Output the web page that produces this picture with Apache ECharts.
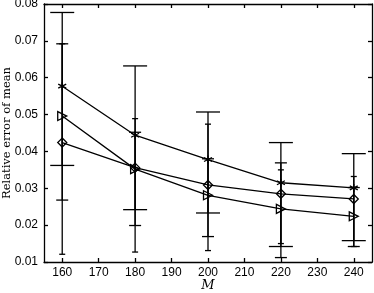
<!DOCTYPE html>
<html><head><meta charset="utf-8">
<script src="https://cdn.jsdelivr.net/npm/echarts@6/dist/echarts.min.js"></script>
<style>html,body{margin:0;padding:0;background:#fff}#c{width:374px;height:293px}</style>
</head><body><div id="c"></div>
<script>
const mValues = [160, 180, 200, 220, 240];
const xTicks = [160, 170, 180, 190, 200, 210, 220, 230, 240];
const yTicks = [0.01, 0.02, 0.03, 0.04, 0.05, 0.06, 0.07, 0.08];

const starMean = [0.0577, 0.0444, 0.0378, 0.0315, 0.0301];
const triMean  = [0.0496, 0.0352, 0.0281, 0.0244, 0.0224];
const diaMean  = [0.0424, 0.0356, 0.0309, 0.0285, 0.0271];

// error bar bounds (wide caps / medium caps / small caps)
const starUpper = [0.0777, 0.0632, 0.0507, 0.0424, 0.0394];
const starLower = [0.0362, 0.0242, 0.0233, 0.0142, 0.0158];
const diaUpper  = [0.0692, 0.0452, 0.0380, 0.0369, 0.0302];
const diaLower  = [0.0268, 0.0199, 0.0169, 0.0112, 0.0142];
const triUpper  = [0.0692, 0.0489, 0.0474, 0.0350, 0.0332];
const triLower  = [0.0121, 0.0127, 0.0131, 0.0150, 0.0142];

const chart = echarts.init(document.getElementById('c'));
const fontSans = 'Liberation Sans, Arial, sans-serif';
const fontSerif = 'DejaVu Serif, Liberation Serif, serif';

function errSeries(name, lower, upper, half) {
  return {
    type: 'custom', name: name, z: 2,
    data: mValues.map((m, i) => [m, lower[i], upper[i]]),
    renderItem: function (params, api) {
      const x = api.value(0);
      const lo = api.coord([x, api.value(1)]);
      const hi = api.coord([x, api.value(2)]);
      const st = { stroke: '#000', lineWidth: 1.3 };
      return { type: 'group', children: [
        { type: 'line', shape: { x1: lo[0], y1: lo[1], x2: hi[0], y2: hi[1] }, style: st },
        { type: 'line', shape: { x1: lo[0] - half, y1: lo[1], x2: lo[0] + half, y2: lo[1] }, style: st },
        { type: 'line', shape: { x1: hi[0] - half, y1: hi[1], x2: hi[0] + half, y2: hi[1] }, style: st }
      ]};
    }
  };
}

function lineSeries(name, vals, symbol, size) {
  return {
    type: 'line', name: name, z: 3,
    data: mValues.map((m, i) => [m, vals[i]]),
    symbol: symbol, symbolSize: size, showAllSymbol: true,
    lineStyle: { color: '#000', width: 1.3 },
    itemStyle: { color: 'transparent', borderColor: '#000', borderWidth: 1.3 },
    emphasis: { disabled: true }, animation: false
  };
}

const axisCommon = {
  axisLine: { show: true, lineStyle: { color: '#000', width: 1.3 } },
  axisTick: { show: true, inside: true, length: 4, lineStyle: { color: '#000', width: 1.3 } },
  splitLine: { show: false }
};

chart.setOption({
  animation: false,
  grid: { left: 44, right: 2, top: 4, bottom: 31, outerBoundsMode: 'none', containLabel: false },
  xAxis: [
    Object.assign({
      type: 'value', min: 155, max: 245, position: 'bottom',
      name: 'M', nameLocation: 'middle', nameGap: 17, nameMoveOverlap: false,
      nameTextStyle: { fontFamily: fontSerif, fontStyle: 'italic', fontSize: 13, color: '#000' },
      axisLabel: { customValues: xTicks, fontFamily: fontSans, fontSize: 12, color: '#000', margin: 5 }
    }, axisCommon, { axisTick: Object.assign({}, axisCommon.axisTick, { customValues: xTicks }) }),
    Object.assign({
      type: 'value', min: 155, max: 245, position: 'top',
      axisLabel: { show: false }
    }, axisCommon, { axisTick: Object.assign({}, axisCommon.axisTick, { customValues: xTicks }) })
  ],
  yAxis: [
    Object.assign({
      type: 'value', min: 0.01, max: 0.08, position: 'left',
      name: 'Relative error of mean', nameLocation: 'middle', nameGap: 31, nameMoveOverlap: false,
      nameTextStyle: { fontFamily: fontSerif, fontSize: 11.5, color: '#000' },
      axisLabel: { customValues: yTicks, formatter: v => v.toFixed(2), fontFamily: fontSans, fontSize: 12, color: '#000', margin: 6 }
    }, axisCommon, { axisTick: Object.assign({}, axisCommon.axisTick, { customValues: yTicks }) }),
    Object.assign({
      type: 'value', min: 0.01, max: 0.08, position: 'right',
      axisLabel: { show: false }
    }, axisCommon, { axisTick: Object.assign({}, axisCommon.axisTick, { customValues: yTicks }) })
  ],
  series: [
    errSeries('star err', starLower, starUpper, 12),
    errSeries('diamond err', diaLower, diaUpper, 6),
    errSeries('triangle err', triLower, triUpper, 3),
    lineSeries('star', starMean, 'path://M0,-5L0,5M-4.3,-2.5L4.3,2.5M-4.3,2.5L4.3,-2.5M-1,-1L1,1', 8),
    lineSeries('triangle', triMean, 'path://M0,0L9,5L0,10Z', 9),
    lineSeries('diamond', diaMean, 'diamond', 9)
  ]
});
</script></body></html>
